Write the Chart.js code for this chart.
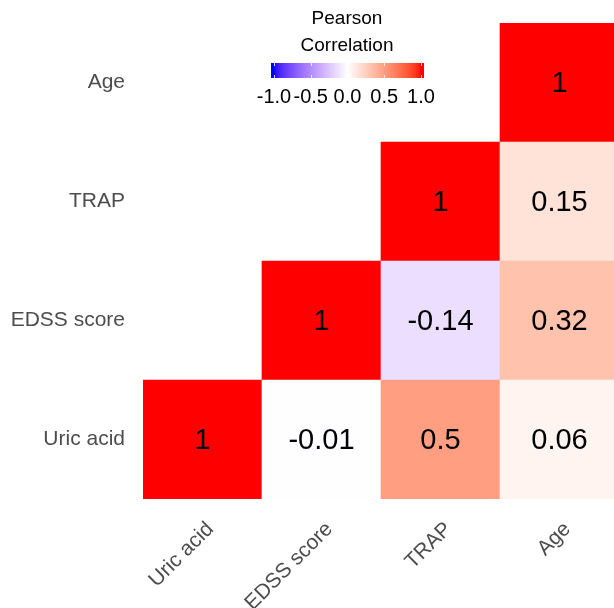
<!DOCTYPE html>
<html>
<head>
<meta charset="utf-8">
<script src="https://cdn.jsdelivr.net/npm/chart.js@4.4.0/dist/chart.umd.min.js"></script>
<style>
  html, body { margin: 0; padding: 0; background: #ffffff; overflow: hidden; }
  #wrap { width: 619px; height: 608px; }
</style>
</head>
<body>
<div id="wrap"><canvas id="corr" width="619" height="608"></canvas></div>
<script>
// variables, bottom row first
var variables = ["Uric acid", "EDSS score", "TRAP", "Age"]

// correlation rows (null = lower triangle, not drawn)
var uricAcidRow = [1, -0.01, 0.5, 0.06]
var edssRow = [null, 1, -0.14, 0.32]
var trapRow = [null, null, 1, 0.15]
var ageRow = [null, null, null, 1]
var corrRows = [uricAcidRow, edssRow, trapRow, ageRow]

var legendTicks = [-1.0, -0.5, 0.0, 0.5, 1.0]
var legendTitle = ["Pearson", "Correlation"]

var fontFamily = "'Liberation Sans', Arial, Helvetica, sans-serif"

// ---- colour scale: white -> red / white -> blue, interpolated in Lab ----
function rgbToLab(r, g, b){
    function lin(c){ c = c / 255; return c <= 0.04045 ? c / 12.92 : Math.pow((c + 0.055) / 1.055, 2.4) }
    var R = lin(r), G = lin(g), B = lin(b)
    var X = (0.4124 * R + 0.3576 * G + 0.1805 * B) / 0.95047
    var Y = (0.2126 * R + 0.7152 * G + 0.0722 * B)
    var Z = (0.0193 * R + 0.1192 * G + 0.9505 * B) / 1.08883
    function f(t){ return t > 0.008856 ? Math.cbrt(t) : 7.787 * t + 16 / 116 }
    var fx = f(X), fy = f(Y), fz = f(Z)
    return [116 * fy - 16, 500 * (fx - fy), 200 * (fy - fz)]
}

function labToRgb(L, a, bb){
    var fy = (L + 16) / 116, fx = fy + a / 500, fz = fy - bb / 200
    function finv(t){ return t * t * t > 0.008856 ? t * t * t : (t - 16 / 116) / 7.787 }
    var X = finv(fx) * 0.95047, Y = finv(fy), Z = finv(fz) * 1.08883
    var R = 3.2406 * X - 1.5372 * Y - 0.4986 * Z
    var G = -0.9689 * X + 1.8758 * Y + 0.0415 * Z
    var B = 0.0557 * X - 0.2040 * Y + 1.0570 * Z
    function gam(c){
        c = c <= 0.0031308 ? 12.92 * c : 1.055 * Math.pow(c, 1 / 2.4) - 0.055
        return Math.round(Math.max(0, Math.min(1, c)) * 255)
    }
    return [gam(R), gam(G), gam(B)]
}

var labWhite = rgbToLab(255, 255, 255)
var labRed = rgbToLab(255, 0, 0)
var labBlue = rgbToLab(0, 0, 255)

function corrColor(v){
    var end = v >= 0 ? labRed : labBlue
    var t = Math.min(1, Math.abs(v))
    var c = labToRgb(
        labWhite[0] + (end[0] - labWhite[0]) * t,
        labWhite[1] + (end[1] - labWhite[1]) * t,
        labWhite[2] + (end[2] - labWhite[2]) * t)
    return "rgb(" + c[0] + "," + c[1] + "," + c[2] + ")"
}

// one floating-bar dataset per row
var datasets = corrRows.map(function(row, r){
    return {
        label: variables[r],
        data: row.map(function(v){ return v === null ? null : [r - 0.5, r + 0.5] }),
        corr: row,
        backgroundColor: row.map(function(v){ return v === null ? "rgba(0,0,0,0)" : corrColor(v) }),
        borderWidth: 0,
        grouped: false,
        barPercentage: 1,
        categoryPercentage: 1
    }
})

// numbers in the cells
var cellText = {
    id: "cellText",
    afterDatasetsDraw: function(chart){
        var ctx = chart.ctx
        ctx.save()
        ctx.font = "29px " + fontFamily
        ctx.fillStyle = "#000000"
        ctx.textAlign = "center"
        ctx.textBaseline = "middle"
        chart.data.datasets.forEach(function(ds, i){
            var meta = chart.getDatasetMeta(i)
            meta.data.forEach(function(bar, j){
                var v = ds.corr[j]
                if (v === null) return
                var p = bar.getCenterPoint()
                ctx.fillText(String(v), p.x, p.y + 1)
            })
        })
        ctx.restore()
    }
}

// colourbar legend
var colorLegend = {
    id: "colorLegend",
    afterDraw: function(chart){
        var ctx = chart.ctx
        var left = 271, right = 424, top = 63, bottom = 78
        var v0 = 274, v1 = 421
        ctx.save()
        for (var x = left; x < right; x++){
            var v = -1 + 2 * (x + 0.5 - v0) / (v1 - v0)
            ctx.fillStyle = corrColor(Math.max(-1, Math.min(1, v)))
            ctx.fillRect(x, top, 1, bottom - top)
        }
        ctx.strokeStyle = "rgba(255,255,255,0.8)"
        ctx.lineWidth = 1
        legendTicks.forEach(function(t){
            var px = Math.round(v0 + (t + 1) / 2 * (v1 - v0)) + 0.5
            ctx.beginPath()
            ctx.moveTo(px, top); ctx.lineTo(px, top + 3)
            ctx.moveTo(px, bottom - 3); ctx.lineTo(px, bottom)
            ctx.stroke()
        })
        ctx.fillStyle = "#000000"
        ctx.textAlign = "center"
        ctx.textBaseline = "middle"
        ctx.font = "19px " + fontFamily
        ctx.fillText(legendTitle[0], 347, 19)
        ctx.fillText(legendTitle[1], 347, 46)
        ctx.font = "20px " + fontFamily
        legendTicks.forEach(function(t){
            var px = v0 + (t + 1) / 2 * (v1 - v0)
            ctx.fillText(t.toFixed(1), px, 97)
        })
        ctx.restore()
    }
}

new Chart(document.getElementById("corr"), {
    type: "bar",
    data: { labels: variables, datasets: datasets },
    options: {
        responsive: false,
        animation: false,
        layout: { padding: { top: 23, right: 0, left: 0, bottom: 0 } },
        plugins: { legend: { display: false }, tooltip: { enabled: false } },
        scales: {
            x: {
                type: "category",
                grid: { display: false, drawTicks: false },
                border: { display: false },
                ticks: {
                    autoSkip: false,
                    minRotation: 45,
                    maxRotation: 45,
                    padding: 18,
                    labelOffset: 8,
                    color: "#4d4d4d",
                    font: { family: fontFamily, size: 21 }
                },
                afterFit: function(scale){
                    scale.height = 109
                    scale.paddingLeft = 0
                    scale.paddingRight = 0
                }
            },
            y: {
                type: "linear",
                min: -0.5,
                max: 3.5,
                grid: { display: false, drawTicks: false },
                border: { display: false },
                afterBuildTicks: function(scale){
                    scale.ticks = variables.map(function(v, i){ return { value: i } })
                },
                ticks: {
                    padding: 18,
                    color: "#4d4d4d",
                    font: { family: fontFamily, size: 21 },
                    callback: function(value){ return variables[value] }
                },
                afterFit: function(scale){
                    scale.width = 143
                    scale.paddingTop = 0
                    scale.paddingBottom = 0
                }
            }
        }
    },
    plugins: [cellText, colorLegend]
})
</script>
</body>
</html>
